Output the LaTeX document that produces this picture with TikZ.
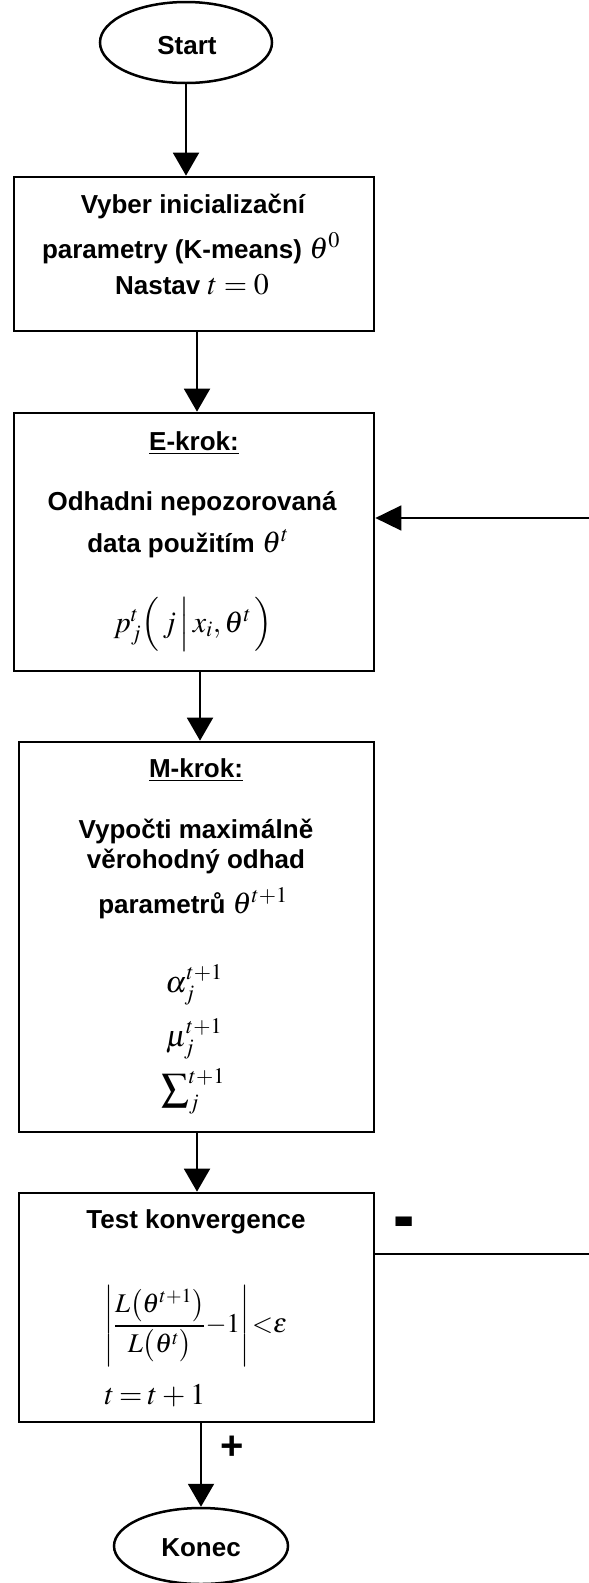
\documentclass[tikz,border=0pt]{standalone}
\usepackage{amsmath}
\usepackage{graphicx}
\usepackage{mathptmx}
\usepackage[no-math]{fontspec}
\setmainfont{Liberation Sans}
\usetikzlibrary{arrows.meta,shapes.geometric}

% inline formulas are set a little larger than the surrounding labels
\newcommand\eqsz[1]{{\fontsize{30}{34}\selectfont$#1$}}

\tikzset{
  box/.style={draw, line width=2.7pt, rectangle, inner sep=0pt},
  term/.style={draw, line width=2.5pt, ellipse, inner sep=0pt},
  txt/.style={anchor=base, inner sep=0pt, font=\bfseries\fontsize{26}{30}\selectfont},
  mth/.style={anchor=base, inner sep=0pt, font=\fontsize{30}{34}\selectfont},
  arr/.style={line width=2pt, -{Triangle[length=23pt,width=26pt]}},
  fb/.style={line width=1.7pt},
  mark label/.style={inner sep=0pt, font=\bfseries\fontsize{40}{44}\selectfont},
}

\begin{document}
\begin{tikzpicture}[x=1pt, y=-1pt]
\useasboundingbox (0,0) rectangle (589,1583);

% terminals
\node[term, minimum width=172pt, minimum height=81pt] (start) at (186,42.5) {};
\node[txt] (startlbl) at (187,54) {Start};
\node[term, minimum width=174pt, minimum height=76pt] (konec) at (201,1546) {};
\node[txt] (koneclbl) at (201,1556) {Konec};

% process boxes
\node[box, minimum width=360pt, minimum height=154pt] (b1) at (194,254) {};
\node[box, minimum width=360pt, minimum height=258pt] (b2) at (194,542) {};
\node[box, minimum width=355pt, minimum height=390pt] (b3) at (196.5,937) {};
\node[box, minimum width=355pt, minimum height=229pt] (b4) at (196.5,1307.5) {};

% initialisation
\node[txt] (l11) at (193,213) {Vyber inicializační};
\node[txt] (l12) at (191,258) {parametry (K-means)~\eqsz{\theta^{0}}};
\node[txt] (l13) at (192,294) {Nastav~\eqsz{t=0}};

% E step
\node[txt] (l21) at (194,450) {\underline{E-krok:}};
\node[txt] (l22) at (192,510) {Odhadni nepozorovaná};
\node[txt] (l23) at (188,552) {data použitím~\eqsz{\theta^{t}}};
\node[mth] (l24) at (193,632) {$p_j^{t}\Bigl(\,j\,\Bigr|\,x_i,\theta^{t}\,\Bigr)$};

% M step
\node[txt] (l31) at (196,777) {\underline{M-krok:}};
\node[txt] (l32) at (196,838) {Vypočti maximálně};
\node[txt] (l33) at (196,868) {věrohodný odhad};
\node[txt] (l34) at (193,913) {parametrů~\eqsz{\theta^{t+1}}};
\node[mth] (l35) at (194,992) {$\alpha_j^{t+1}$};
\node[mth] (l36) at (194,1046) {$\mu_j^{t+1}$};
\node[mth] (l37) at (193,1101) {$\text{\scalebox{1.3}{$\sum$}}_j^{t+1}$};

% convergence test
\node[txt] (l41) at (196,1228) {Test konvergence};
\node[inner sep=0pt, font=\fontsize{27}{31}\selectfont] (l42) at (196,1326)
  {$\left|\dfrac{L\bigl(\theta^{t+1}\bigr)}{L\bigl(\theta^{t}\bigr)}{-}1\right|{<}\varepsilon$};
\node[mth] (l43) at (155,1404) {$t\mkern3mu{=}\mkern3mu t\mkern3mu{+}\mkern3mu1$};

% flow
\draw[arr] (start) -- (start |- b1.north);
\draw[arr] ([xshift=3pt]b1.south) -- ([xshift=3pt]b1.south |- b2.north);
\draw[arr] ([xshift=6pt]b2.south) -- ([xshift=6pt]b2.south |- b3.north);
\draw[arr] ([xshift=0.5pt]b3.south) -- ([xshift=0.5pt]b3.south |- b4.north);
\draw[arr] ([xshift=4.5pt]b4.south) -- (konec.north);

% loop back to the E step
\coordinate (fbout) at (589,1254);
\coordinate (fbin) at (589,518);
\draw[fb] (b4.east |- fbout) -- (fbout);
\draw[fb, -{Triangle[length=26pt,width=25pt]}] (fbin) -- (fbin -| b2.east);

% branch labels
\node[mark label] (minus) at (404,1230) {\scalebox{1.6}[2]{-}};
\node[mark label] (plus) at (232,1448) {+};
\end{tikzpicture}
\end{document}
